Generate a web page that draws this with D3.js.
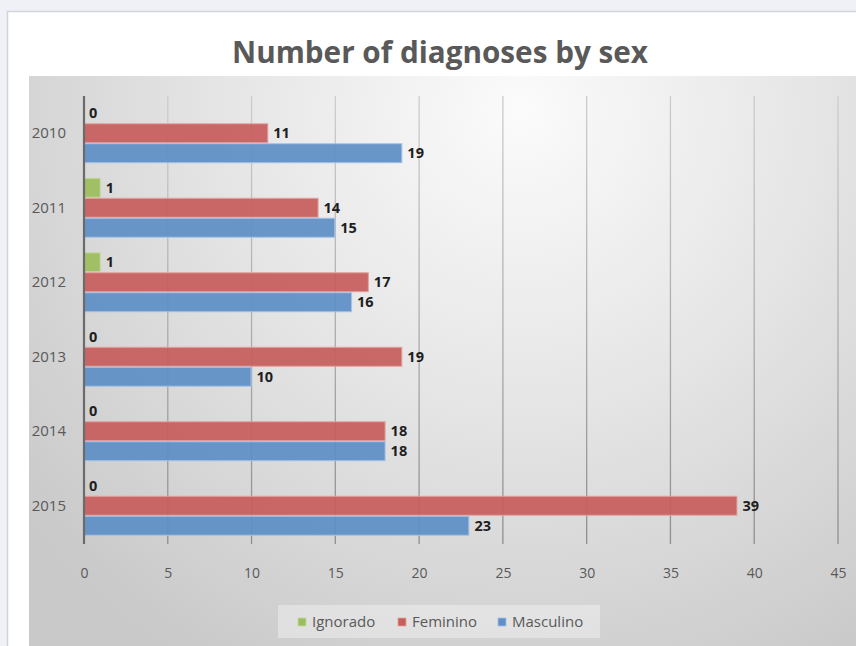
<!DOCTYPE html>
<html>
<head>
<meta charset="utf-8">
<script src="https://cdn.jsdelivr.net/npm/d3@7"></script>
<style>
  html, body { margin: 0; padding: 0; background: #eff1f6; }
  svg { display: block; }
</style>
</head>
<body>
<svg id="chart" width="856" height="646"></svg>
<script>
// Chart data
const years = ["2010", "2011", "2012", "2013", "2014", "2015"];
const seriesNames = ["Ignorado", "Feminino", "Masculino"];
const ignorado = [0, 1, 1, 0, 0, 0];
const feminino = [11, 14, 17, 19, 18, 39];
const masculino = [19, 15, 16, 10, 18, 23];
const xTicks = [0, 5, 10, 15, 20, 25, 30, 35, 40, 45];
const titleText = "Number of diagnoses by sex";

const seriesValues = { Ignorado: ignorado, Feminino: feminino, Masculino: masculino };
const fills = { Ignorado: "#9cbd5d", Feminino: "#c65e5b", Masculino: "#5f8fc6" };
const strokes = { Ignorado: "#c4dba0", Feminino: "#e3a3a1", Masculino: "#a6c3e6" };

const svg = d3.select("#chart");
const defs = svg.append("defs");

// Card background
svg.append("rect").attr("x", 7.5).attr("y", 11.5).attr("width", 860).attr("height", 650)
  .attr("fill", "#ffffff").attr("stroke", "#d3d4da").attr("stroke-width", 1.5);

// Plot area shading
const grad = defs.append("radialGradient").attr("id", "plotBg")
  .attr("gradientUnits", "userSpaceOnUse")
  .attr("cx", 520).attr("cy", 110).attr("r", 640);
grad.append("stop").attr("offset", "0%").attr("stop-color", "#fbfbfb");
grad.append("stop").attr("offset", "45%").attr("stop-color", "#e6e6e6");
grad.append("stop").attr("offset", "100%").attr("stop-color", "#c9c9c9");

svg.append("rect").attr("x", 29).attr("y", 76).attr("width", 830).attr("height", 575)
  .attr("fill", "url(#plotBg)");

// Gridline shading: fainter at the top, darker near the axis
const gridGrad = defs.append("linearGradient").attr("id", "gridStroke")
  .attr("gradientUnits", "userSpaceOnUse")
  .attr("x1", 0).attr("y1", 96).attr("x2", 0).attr("y2", 544);
gridGrad.append("stop").attr("offset", "0%").attr("stop-color", "#cdcdcd");
gridGrad.append("stop").attr("offset", "100%").attr("stop-color", "#8e8e8e");

// Title, fitted to its width
const title = svg.append("text").text(titleText)
  .attr("x", 440).attr("y", 63).attr("text-anchor", "middle")
  .attr("font-family", "'Open Sans', sans-serif").attr("font-weight", "bold")
  .attr("font-size", 26).attr("fill", "#595959");
const tw = title.node().getComputedTextLength();
title.attr("font-size", 26 * 416 / tw);

// Scales
const x = d3.scaleLinear().domain([0, 45]).range([84, 838]);
const y = d3.scaleBand().domain(years).range([96, 543]).paddingInner(0.195).paddingOuter(0.0975);
const ySub = d3.scaleBand().domain(seriesNames).range([0, y.bandwidth()]);

// Gridlines
svg.append("g").selectAll("line").data(xTicks.filter(d => d > 0)).join("line")
  .attr("x1", d => x(d)).attr("x2", d => x(d))
  .attr("y1", 96).attr("y2", 544)
  .attr("stroke", "url(#gridStroke)").attr("stroke-width", 1.3);

// X tick labels
const xAxis = d3.axisBottom(x).tickValues(xTicks).tickSize(0).tickPadding(0);
const gx = svg.append("g").attr("transform", "translate(0,578)").call(xAxis);
gx.select(".domain").remove();
gx.selectAll("text").attr("font-family", "'Open Sans', sans-serif").attr("font-size", 14)
  .attr("fill", "#595959").attr("dy", 0);

// Y axis labels
const yAxis = d3.axisLeft(y).tickSize(0).tickPadding(0);
const gy = svg.append("g").attr("transform", "translate(66,0)").call(yAxis);
gy.select(".domain").remove();
gy.selectAll("text").attr("font-family", "'Open Sans', sans-serif").attr("font-size", 15)
  .attr("fill", "#595959");

// Bars
const rows = [];
years.forEach((yr, i) => {
  seriesNames.forEach(s => rows.push({ year: yr, series: s, value: seriesValues[s][i] }));
});

const bars = svg.append("g");
bars.selectAll("rect").data(rows.filter(d => d.value > 0)).join("rect")
  .attr("x", x(0) + 0.5)
  .attr("y", d => y(d.year) + ySub(d.series) + 0.5)
  .attr("width", d => x(d.value) - x(0) - 1)
  .attr("height", ySub.bandwidth() - 1)
  .attr("fill", d => fills[d.series]).attr("fill-opacity", 0.93)
  .attr("stroke", d => strokes[d.series]).attr("stroke-width", 1);

// Vertical axis line
svg.append("line").attr("x1", x(0)).attr("x2", x(0)).attr("y1", 96).attr("y2", 544)
  .attr("stroke", "#6b6b6b").attr("stroke-width", 2.2);

// Value labels
svg.append("g").selectAll("text").data(rows).join("text")
  .attr("x", d => x(d.value) + 5)
  .attr("y", d => y(d.year) + ySub(d.series) + ySub.bandwidth() / 2)
  .attr("dy", "0.35em")
  .attr("font-family", "'Open Sans', sans-serif").attr("font-weight", "bold")
  .attr("font-size", 14.5).attr("fill", "#1e1e1e")
  .text(d => d.value);

// Legend
const legend = svg.append("g");
legend.append("rect").attr("x", 278).attr("y", 605).attr("width", 322).attr("height", 33)
  .attr("fill", "rgba(255,255,255,0.35)");
const legendX = [298, 398, 498];
seriesNames.forEach((s, i) => {
  legend.append("rect").attr("x", legendX[i]).attr("y", 618).attr("width", 8).attr("height", 8)
    .attr("fill", fills[s]).attr("stroke", strokes[s]).attr("stroke-width", 0.8);
  legend.append("text").attr("x", legendX[i] + 14).attr("y", 622).attr("dy", "0.35em")
    .attr("font-family", "'Open Sans', sans-serif").attr("font-size", 15)
    .attr("fill", "#595959").text(s);
});
</script>
</body>
</html>
